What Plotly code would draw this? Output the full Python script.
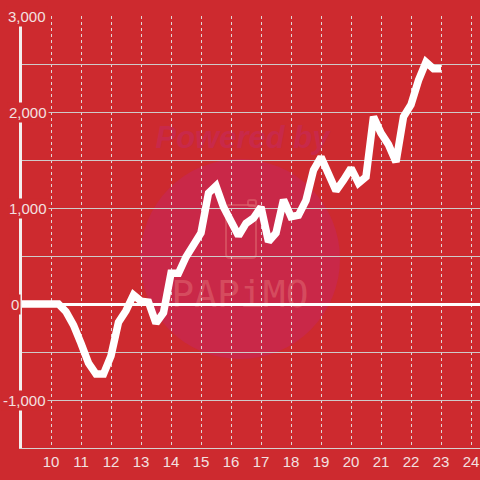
import plotly.graph_objects as go

# --- data (hours as decimal, cumulative value) ---
hours = [9.0, 9.25, 9.5, 9.75, 10.0, 10.25, 10.5, 10.75, 11.0, 11.25, 11.5, 11.75,
         12.0, 12.25, 12.5, 12.75, 13.0, 13.25, 13.5, 13.75, 14.0, 14.25, 14.5, 14.75,
         15.0, 15.25, 15.5, 15.75, 16.0, 16.25, 16.5, 16.75, 17.0, 17.25, 17.5, 17.75,
         18.0, 18.25, 18.5, 18.75, 19.0, 19.25, 19.5, 19.75, 20.0, 20.25, 20.5, 20.75,
         21.0, 21.25, 21.5, 21.75, 22.0, 22.25, 22.5, 22.75, 23.0]
values = [0, 0, 0, 0, 0, 0, -80, -220, -410, -615, -730, -730,
          -540, -190, -70, 95, 30, 20, -200, -90, 320, 320, 490, 615,
          740, 1155, 1230, 1010, 855, 710, 840, 895, 1010, 650, 740, 1085,
          910, 925, 1080, 1395, 1530, 1330, 1180, 1290, 1415, 1260, 1325, 1950,
          1780, 1660, 1480, 1950, 2075, 2330, 2520, 2450, 2450]

x_tick_vals = list(range(10, 25))
x_tick_text = [str(v) for v in x_tick_vals]
y_tick_vals = [3000, 2000, 1000, 0, -1000]
y_tick_text = ["3,000", "2,000", "1,000", "0", "-1,000"]
y_label_left_px = [6, 7, 7, 9, 1]

BG = "#cd2a2f"
FONT = "Liberation Sans, Arial, sans-serif"
TXT = "#f3e0e0"

L, R, T, B = 22, 0, 16, 32
W, H = 480, 480
PW, PH = W - L - R, H - T - B


def px(xp):
    return (xp - L) / PW


def py(yp):
    return (H - B - yp) / PH


def rounded_rect_path(x0, y0, x1, y1, r):
    # pixel coords (y down) -> paper path
    pts = []
    def P(x, y):
        return f"{px(x):.5f},{py(y):.5f}"
    return (f"M {P(x0 + r, y0)} L {P(x1 - r, y0)} Q {P(x1, y0)} {P(x1, y0 + r)} "
            f"L {P(x1, y1 - r)} Q {P(x1, y1)} {P(x1 - r, y1)} "
            f"L {P(x0 + r, y1)} Q {P(x0, y1)} {P(x0, y1 - r)} "
            f"L {P(x0, y0 + r)} Q {P(x0, y0)} {P(x0 + r, y0)} Z")


fig = go.Figure()
fig.add_trace(go.Scatter(x=hours, y=values, mode="lines",
                         line=dict(color="white", width=7.5, shape="linear"),
                         hoverinfo="skip", showlegend=False))

WM = "rgba(222,100,110,0.6)"
shapes = [
    # watermark circle
    dict(type="circle", xref="paper", yref="paper", layer="below",
         x0=px(140), x1=px(340), y0=py(359), y1=py(159),
         fillcolor="#c92848", line=dict(width=0)),
    # phone icon
    dict(type="path", xref="paper", yref="paper", layer="below",
         path=rounded_rect_path(226, 205, 256, 258, 4),
         line=dict(color=WM, width=2), fillcolor="rgba(0,0,0,0)"),
    dict(type="path", xref="paper", yref="paper", layer="below",
         path=rounded_rect_path(248, 200, 256, 206, 2),
         line=dict(color=WM, width=2), fillcolor="rgba(0,0,0,0)"),
    # "Powered by" text
    dict(type="rect", xref="paper", yref="paper", layer="below",
         x0=px(140), x1=px(345), y0=py(150), y1=py(118),
         line=dict(width=0), fillcolor="rgba(0,0,0,0)",
         label=dict(text="Powered by", textposition="middle center",
                    font=dict(family=FONT, size=31, color="#c8294a",
                              weight="bold", style="italic"))),
    # "PAPiMO" text
    dict(type="rect", xref="paper", yref="paper", layer="below",
         x0=px(160), x1=px(320), y0=py(310), y1=py(272),
         line=dict(width=0), fillcolor="rgba(0,0,0,0)",
         label=dict(text="PAPiMO", textposition="middle center",
                    font=dict(family="DejaVu Sans Mono, monospace", size=38,
                              color=WM))),
]

annotations = []
for v, t, lp in zip(y_tick_vals, y_tick_text, y_label_left_px):
    annotations.append(dict(
        x=px(lp), y=v, xref="paper", yref="y", text=t, showarrow=False,
        xanchor="left", yanchor="middle", bgcolor=BG, borderpad=1,
        font=dict(family=FONT, size=15, color=TXT)))

fig.update_layout(
    width=W, height=H,
    margin=dict(l=L, r=R, t=T, b=B, pad=0),
    paper_bgcolor=BG, plot_bgcolor=BG,
    shapes=shapes, annotations=annotations,
    showlegend=False,
    xaxis=dict(range=[9.0333, 24.3], tickmode="array", tickvals=x_tick_vals,
               ticktext=x_tick_text, showgrid=True, gridcolor="#e0d6d6",
               griddash="dot", gridwidth=1, zeroline=False,
               showline=True, linecolor="#d8d0d0", linewidth=1,
               ticks="", tickfont=dict(family=FONT, size=15, color=TXT),
               fixedrange=True),
    yaxis=dict(range=[-1500, 3000], tickmode="linear", tick0=0, dtick=500,
               showticklabels=False, showgrid=True, gridcolor="#cfcaca",
               gridwidth=1, zeroline=True, zerolinecolor="white",
               zerolinewidth=3, showline=True, linecolor="#f4efef",
               linewidth=3, ticks="", fixedrange=True),
)

fig.write_html("out.html", config={"displayModeBar": False},
               post_script="document.body.style.margin='0px';"
                           "document.body.style.overflow='hidden';"
                           "document.body.style.background='" + BG + "';")
